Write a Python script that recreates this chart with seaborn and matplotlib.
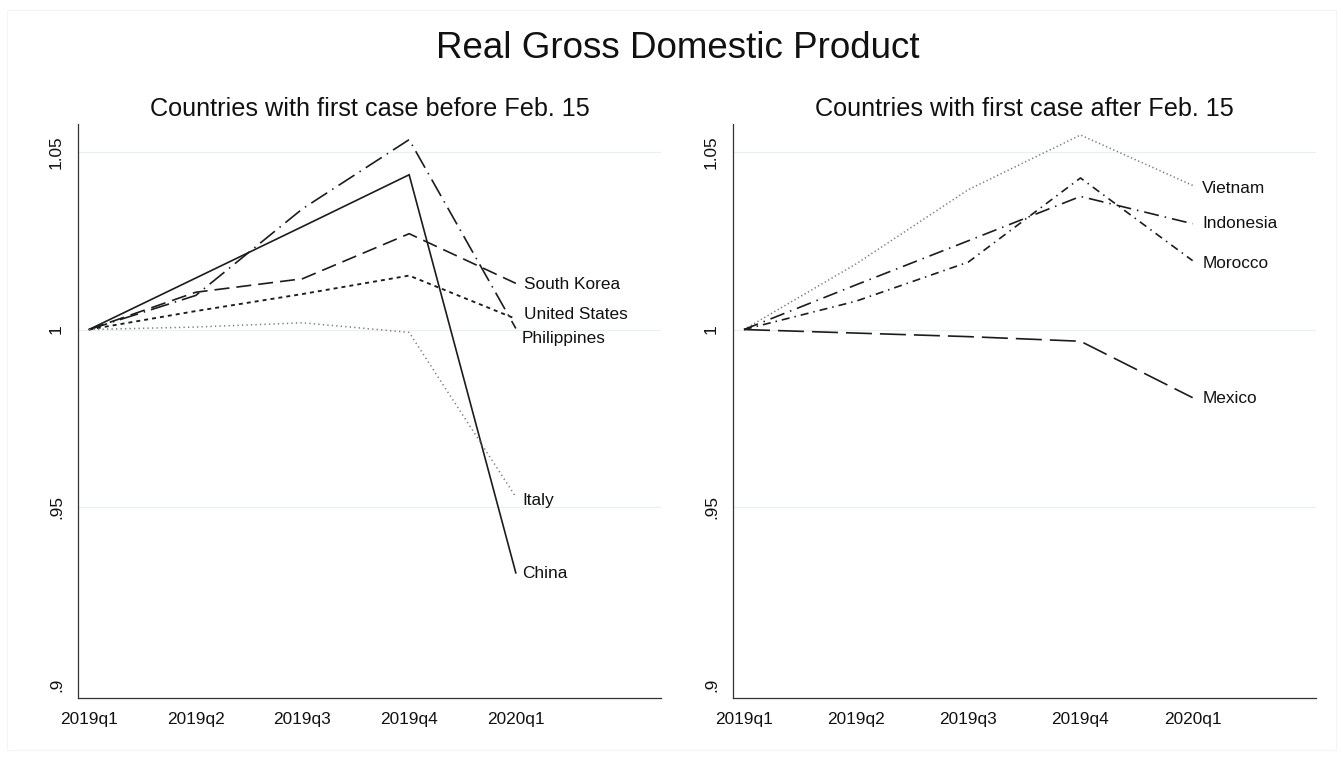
import matplotlib
matplotlib.use("Agg")
import matplotlib.pyplot as plt
import seaborn as sns
import pandas as pd
from matplotlib.patches import Rectangle

# Quarterly real GDP, indexed to 2019q1 = 1
quarters = ["2019q1", "2019q2", "2019q3", "2019q4", "2020q1"]

# Countries with first case before Feb. 15
china = [1.0, 1.0145, 1.0290, 1.0436, 0.9314]
south_korea = [1.0, 1.0105, 1.0143, 1.0270, 1.0130]
philippines = [1.0, 1.0096, 1.0340, 1.0535, 1.0003]
united_states = [1.0, 1.0052, 1.0100, 1.0152, 1.0030]
italy = [1.0, 1.0007, 1.0019, 0.9992, 0.9528]

# Countries with first case after Feb. 15
vietnam = [1.0, 1.0185, 1.0394, 1.0548, 1.0406]
indonesia = [1.0, 1.0126, 1.0250, 1.0375, 1.0298]
morocco = [1.0, 1.0080, 1.0190, 1.0427, 1.0194]
mexico = [1.0, 0.9990, 0.9980, 0.9967, 0.9808]

y_ticks = [0.9, 0.95, 1.0, 1.05]
y_tick_labels = [".9", ".95", "1", "1.05"]

main_title = "Real Gross Domestic Product"
left_title = "Countries with first case before Feb. 15"
right_title = "Countries with first case after Feb. 15"

sns.set_theme(style="white")
plt.rcParams["font.family"] = ["Liberation Sans", "DejaVu Sans"]
plt.rcParams["lines.scale_dashes"] = False

PX = 0.72  # points per pixel at 100 dpi
DARK = "#1c1c1c"
GRAY = "#7a7a7a"

styles = {
    "China": dict(color=DARK, ls="-", lw=1.2),
    "South Korea": dict(color=DARK, ls=(0, (15 * PX, 7 * PX)), lw=1.2),
    "Philippines": dict(color=DARK, ls=(0, (19 * PX, 6 * PX, 1.5 * PX, 6 * PX)), lw=1.2),
    "United States": dict(color=DARK, ls=(0, (4 * PX, 4 * PX)), lw=1.35),
    "Italy": dict(color=GRAY, ls=(0, (1.3 * PX, 3.2 * PX)), lw=1.1),
    "Vietnam": dict(color=GRAY, ls=(0, (1.3 * PX, 2.6 * PX)), lw=1.1),
    "Indonesia": dict(color=DARK, ls=(0, (15 * PX, 6 * PX, 1.5 * PX, 6 * PX)), lw=1.2),
    "Morocco": dict(color=DARK, ls=(0, (8 * PX, 5 * PX, 1.5 * PX, 5 * PX)), lw=1.2),
    "Mexico": dict(color=DARK, ls=(0, (26 * PX, 8 * PX)), lw=1.2),
}

left_series = {
    "China": china,
    "South Korea": south_korea,
    "Philippines": philippines,
    "United States": united_states,
    "Italy": italy,
}
right_series = {
    "Vietnam": vietnam,
    "Indonesia": indonesia,
    "Morocco": morocco,
    "Mexico": mexico,
}

# label offsets (points) from each line's last point
label_offsets = {
    "China": (4.5, 0),
    "South Korea": (6, -0.5),
    "Philippines": (4.5, -7),
    "United States": (6, 3),
    "Italy": (4.5, -2.5),
    "Vietnam": (7, -2),
    "Indonesia": (7, 0),
    "Morocco": (7, -2),
    "Mexico": (7, -0.5),
}


def long_frame(series):
    rows = []
    for name, vals in series.items():
        for i, (q, v) in enumerate(zip(quarters, vals)):
            rows.append({"country": name, "t": i, "quarter": q, "gdp": v})
    return pd.DataFrame(rows)


fig = plt.figure(figsize=(13.43, 7.61), dpi=100)
fig.patch.set_facecolor("white")

# light graph-region frame
fig.add_artist(Rectangle((7 / 1343, 1 - 750 / 761), 1329 / 1343, 740 / 761,
                         transform=fig.transFigure, fill=False,
                         edgecolor="#f4f6f6", lw=0.8))

ax_l = fig.add_axes([78 / 1343, 1 - 698 / 761, 583 / 1343, 574 / 761])
ax_r = fig.add_axes([733 / 1343, 1 - 698 / 761, 583 / 1343, 574 / 761])

panels = [
    (ax_l, left_series, left_title, (-0.103, 5.36)),
    (ax_r, right_series, right_title, (-0.098, 5.10)),
]

for ax, series, title, xlim in panels:
    df = long_frame(series)
    for name in series:
        st = styles[name]
        sub = df[df["country"] == name]
        sns.lineplot(data=sub, x="t", y="gdp", ax=ax, color=st["color"],
                     linestyle=st["ls"], linewidth=st["lw"],
                     dash_capstyle="butt", solid_joinstyle="miter",
                     legend=False, zorder=3)
        dx, dy = label_offsets[name]
        ax.annotate(name, xy=(len(quarters) - 1, series[name][-1]),
                    xytext=(dx, dy), textcoords="offset points",
                    ha="left", va="center", fontsize=12.4, color="#111111")

    ax.set_xlim(*xlim)
    ax.set_ylim(0.8962, 1.0579)
    ax.set_xticks(range(len(quarters)))
    ax.set_xticklabels(quarters, fontsize=12.4, color="#111111")
    ax.set_yticks(y_ticks)
    ax.set_yticklabels(y_tick_labels, fontsize=12.4, color="#111111",
                       rotation=90, va="center")
    ax.set_xlabel("")
    ax.set_ylabel("")
    for y in [0.95, 1.0, 1.05]:
        ax.axhline(y, color="#e9f0f2", lw=0.9, zorder=1)
    ax.tick_params(axis="both", direction="out", length=5, width=0.9,
                   color="#333333", pad=5)
    ax.tick_params(axis="x", pad=5)
    for side in ["top", "right"]:
        ax.spines[side].set_visible(False)
    for side in ["left", "bottom"]:
        ax.spines[side].set_color("#333333")
        ax.spines[side].set_linewidth(0.9)
    ax.set_title(title, fontsize=18.2, color="#111111", pad=6)

fig.text(0.5045, 1 - 49 / 761, main_title, ha="center", va="center",
         fontsize=26.5, color="#111111")

fig.savefig("out.png", dpi=100, facecolor="white")
